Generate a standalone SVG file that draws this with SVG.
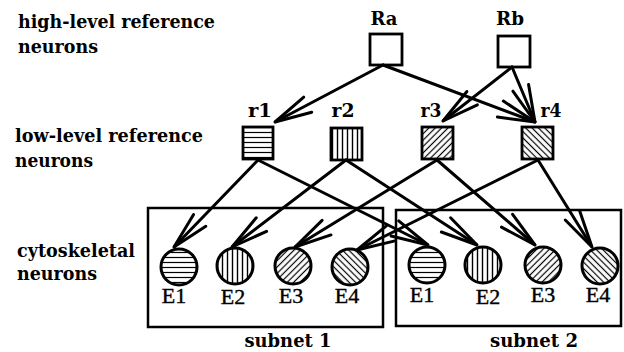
<svg xmlns="http://www.w3.org/2000/svg" width="624" height="352" viewBox="0 0 624 352">
  <style>
    .lbl { font-family: "DejaVu Serif", "Liberation Serif", serif; font-weight: bold; font-size: 18px; fill: #000; }
    .nm { font-family: "DejaVu Serif", "Liberation Serif", serif; font-weight: bold; font-size: 19px; fill: #000; text-anchor: middle; }
    .el { font-family: "Liberation Serif", "Times New Roman", serif; font-size: 22px; fill: #000; text-anchor: middle; stroke: #000; stroke-width: 0.4; }
    .box { fill: none; stroke: #000; stroke-width: 2.5; }
    .sq { stroke: #000; stroke-width: 2.8; }
    .cell { stroke: #000; stroke-width: 3; }
    .conn { fill: none; stroke: #000; stroke-width: 3; stroke-linecap: round; marker-end: url(#arrow); }
  </style>
  <defs>
    <!-- long open arrowhead, fixed size regardless of stroke -->
    <marker id="arrow" markerUnits="userSpaceOnUse" markerWidth="50" markerHeight="30" refX="0" refY="0" viewBox="-42 -15 44 30" orient="auto" overflow="visible">
      <path d="M -37,-8.5 L 0,0 L -37,8.5" fill="none" stroke="#000" stroke-width="3" stroke-linejoin="miter" stroke-linecap="round"/>
    </marker>
    <pattern id="hz" patternUnits="userSpaceOnUse" width="5" height="5">
      <rect width="5" height="5" fill="#fff"/>
      <line x1="0" y1="2.5" x2="5" y2="2.5" stroke="#000" stroke-width="1.2"/>
    </pattern>
    <pattern id="vt" patternUnits="userSpaceOnUse" width="5" height="5">
      <rect width="5" height="5" fill="#fff"/>
      <line x1="2.5" y1="0" x2="2.5" y2="5" stroke="#000" stroke-width="1.4"/>
    </pattern>
    <pattern id="fw" patternUnits="userSpaceOnUse" width="4.5" height="4.5" patternTransform="rotate(45)">
      <rect width="4.5" height="4.5" fill="#fff"/>
      <line x1="2.25" y1="0" x2="2.25" y2="4.5" stroke="#000" stroke-width="1.2"/>
    </pattern>
    <pattern id="bk" patternUnits="userSpaceOnUse" width="4.5" height="4.5" patternTransform="rotate(-45)">
      <rect width="4.5" height="4.5" fill="#fff"/>
      <line x1="2.25" y1="0" x2="2.25" y2="4.5" stroke="#000" stroke-width="1.2"/>
    </pattern>
  </defs>

  <rect width="624" height="352" fill="#fff"/>

  <!-- layer captions -->
  <g id="captions">
    <text class="lbl" x="18" y="28" textLength="197" lengthAdjust="spacingAndGlyphs">high-level reference</text>
    <text class="lbl" x="18" y="53" textLength="80" lengthAdjust="spacingAndGlyphs">neurons</text>
    <text class="lbl" x="15" y="142" textLength="188" lengthAdjust="spacingAndGlyphs">low-level reference</text>
    <text class="lbl" x="15" y="167" textLength="78" lengthAdjust="spacingAndGlyphs">neurons</text>
    <text class="lbl" x="17" y="257" textLength="118" lengthAdjust="spacingAndGlyphs">cytoskeletal</text>
    <text class="lbl" x="17" y="280" textLength="80" lengthAdjust="spacingAndGlyphs">neurons</text>
  </g>

  <!-- subnet frames -->
  <g id="subnet1">
    <rect class="box" x="148" y="208" width="235" height="119"/>
    <text class="nm" x="288" y="347" textLength="87" lengthAdjust="spacingAndGlyphs">subnet 1</text>
  </g>
  <g id="subnet2">
    <rect class="box" x="396" y="210" width="225" height="116"/>
    <text class="nm" x="534" y="347" textLength="88" lengthAdjust="spacingAndGlyphs">subnet 2</text>
  </g>

  <!-- high-level reference neurons -->
  <g id="Ra">
    <rect class="sq" x="370" y="34" width="32" height="31" fill="#fff"/>
    <text class="nm" x="384" y="25" textLength="27" lengthAdjust="spacingAndGlyphs">Ra</text>
  </g>
  <g id="Rb">
    <rect class="sq" x="498" y="36" width="32" height="31" fill="#fff"/>
    <text class="nm" x="510" y="25" textLength="28" lengthAdjust="spacingAndGlyphs">Rb</text>
  </g>

  <!-- low-level reference neurons -->
  <g id="r1">
    <rect class="sq" x="243" y="127" width="30" height="32" fill="url(#hz)"/>
    <text class="nm" x="260" y="117" textLength="24" lengthAdjust="spacingAndGlyphs">r1</text>
  </g>
  <g id="r2">
    <rect class="sq" x="331" y="128" width="31" height="32" fill="url(#vt)"/>
    <text class="nm" x="343" y="117" textLength="23" lengthAdjust="spacingAndGlyphs">r2</text>
  </g>
  <g id="r3">
    <rect class="sq" x="422" y="127" width="31" height="32" fill="url(#fw)"/>
    <text class="nm" x="431" y="117" textLength="21" lengthAdjust="spacingAndGlyphs">r3</text>
  </g>
  <g id="r4">
    <rect class="sq" x="522" y="127" width="31" height="32" fill="url(#bk)"/>
    <text class="nm" x="551" y="117" textLength="21" lengthAdjust="spacingAndGlyphs">r4</text>
  </g>

  <!-- cytoskeletal neurons, subnet 1 -->
  <g id="s1E1">
    <circle class="cell" cx="179" cy="267" r="18" fill="url(#hz)"/>
    <text class="el" x="174" y="303">E1</text>
  </g>
  <g id="s1E2">
    <circle class="cell" cx="235" cy="266" r="18" fill="url(#vt)"/>
    <text class="el" x="233" y="304">E2</text>
  </g>
  <g id="s1E3">
    <circle class="cell" cx="293" cy="266" r="18" fill="url(#fw)"/>
    <text class="el" x="291" y="303">E3</text>
  </g>
  <g id="s1E4">
    <circle class="cell" cx="350" cy="267" r="18" fill="url(#bk)"/>
    <text class="el" x="347" y="303">E4</text>
  </g>

  <!-- cytoskeletal neurons, subnet 2 -->
  <g id="s2E1">
    <circle class="cell" cx="427" cy="265" r="18" fill="url(#hz)"/>
    <text class="el" x="422" y="302">E1</text>
  </g>
  <g id="s2E2">
    <circle class="cell" cx="483" cy="265" r="18" fill="url(#vt)"/>
    <text class="el" x="488" y="304">E2</text>
  </g>
  <g id="s2E3">
    <circle class="cell" cx="543" cy="265" r="18" fill="url(#fw)"/>
    <text class="el" x="543" y="302">E3</text>
  </g>
  <g id="s2E4">
    <circle class="cell" cx="600" cy="266" r="18" fill="url(#bk)"/>
    <text class="el" x="598" y="302">E4</text>
  </g>

  <!-- connections -->
  <g id="connectors">
    <path class="conn" d="M383,65 L275,122"/>
    <path class="conn" d="M383,65 L535,122"/>
    <path class="conn" d="M512,67 L443,121"/>
    <path class="conn" d="M512,67 L535,122"/>
    <path class="conn" d="M258,160 L174,247"/>
    <path class="conn" d="M258,160 L428,245"/>
    <path class="conn" d="M346,160 L232,247"/>
    <path class="conn" d="M346,160 L477,245"/>
    <path class="conn" d="M437,160 L295,247"/>
    <path class="conn" d="M437,160 L535,245"/>
    <path class="conn" d="M538,160 L357,250"/>
    <path class="conn" d="M538,160 L592,247"/>
  </g>
</svg>
